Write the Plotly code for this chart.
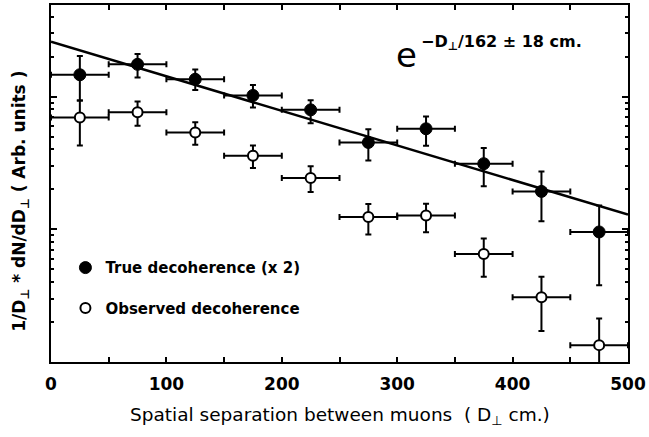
import plotly.graph_objects as go

# Data
x_centers = [25, 75, 125, 175, 225, 275, 325, 375, 425, 475]
x_half_width = [25] * 10

true_y = [14.6, 17.5, 13.5, 10.2, 7.94, 4.51, 5.72, 3.12, 1.93, 0.955]
true_top = [20.2, 20.9, 16.0, 12.2, 9.38, 5.68, 7.07, 4.09, 2.73, 1.51]
true_bot = [9.33, 13.9, 11.2, 8.27, 6.30, 3.30, 4.26, 2.11, 1.15, 0.379]

obs_y = [6.95, 7.62, 5.36, 3.58, 2.43, 1.24, 1.27, 0.652, 0.308, 0.134]
obs_top = [9.33, 9.17, 6.41, 4.28, 2.98, 1.55, 1.56, 0.851, 0.438, 0.213]
obs_bot = [4.28, 6.02, 4.33, 2.89, 1.91, 0.912, 0.949, 0.438, 0.171, 0.08]

fit_x = [0, 500]
fit_y = [25.9, 1.29]

x_ticks = [0, 100, 200, 300, 400, 500]

FONT = "DejaVu Sans"

def up(v, t):
    return [a - b for a, b in zip(t, v)]

def down(v, b):
    return [a - c for a, c in zip(v, b)]

fig = go.Figure()

fig.add_trace(go.Scatter(
    x=fit_x, y=fit_y, mode="lines",
    line=dict(color="black", width=2.5),
    showlegend=False, hoverinfo="skip"))

fig.add_trace(go.Scatter(
    x=x_centers, y=true_y, mode="markers",
    name="True decoherence (x 2)", legendgroup="a",
    marker=dict(symbol="circle", size=12, color="black",
                line=dict(color="black", width=1)),
    error_x=dict(type="data", array=x_half_width, color="black",
                 thickness=2, width=3),
    error_y=dict(type="data", symmetric=False,
                 array=up(true_y, true_top),
                 arrayminus=down(true_y, true_bot),
                 color="black", thickness=2, width=3)))

fig.add_trace(go.Scatter(
    x=x_centers, y=obs_y, mode="markers",
    name="Observed decoherence", legendgroup="b",
    marker=dict(symbol="circle", size=10, color="white",
                line=dict(color="black", width=2)),
    error_x=dict(type="data", array=x_half_width, color="black",
                 thickness=2, width=3),
    error_y=dict(type="data", symmetric=False,
                 array=up(obs_y, obs_top),
                 arrayminus=down(obs_y, obs_bot),
                 color="black", thickness=2, width=3)))

fig.add_annotation(
    x=0.594, y=0.859, xref="paper", yref="paper",
    text="e", showarrow=False, xanchor="left", yanchor="middle",
    font=dict(family=FONT, size=34, color="black"))
fig.add_annotation(
    x=0.637, y=0.894, xref="paper", yref="paper",
    text="−D<sub>⊥</sub>/162 ± 18 cm.", showarrow=False,
    xanchor="left", yanchor="middle",
    font=dict(family=FONT, size=16, color="black", weight="bold"))

# axis titles as annotations for exact placement
fig.add_annotation(
    x=0.501, y=-0.152, xref="paper", yref="paper",
    text="Spatial separation between muons  ( D<sub>⊥</sub> cm.)",
    showarrow=False, xanchor="center", yanchor="middle",
    font=dict(family=FONT, size=18.5, color="black"))
fig.add_annotation(
    x=-0.053, y=0.45, xref="paper", yref="paper",
    text="1/D<sub>⊥</sub> * dN/dD<sub>⊥</sub> ( Arb. units )",
    showarrow=False, xanchor="center", yanchor="middle", textangle=-90,
    font=dict(family=FONT, size=17, color="black", weight="bold"))

fig.update_layout(
    width=649, height=437,
    margin=dict(l=51, r=18, t=3, b=75),
    paper_bgcolor="white", plot_bgcolor="white",
    font=dict(family=FONT, color="black"),
    legend=dict(x=0.025, y=0.31, xanchor="left", yanchor="top",
                bgcolor="rgba(0,0,0,0)", traceorder="grouped",
                tracegroupgap=18,
                font=dict(family=FONT, size=15, color="black", weight="bold")),
    xaxis=dict(
        range=[0, 500], tickvals=x_ticks, ticktext=[str(v) for v in x_ticks],
        ticks="inside", ticklen=5, tickwidth=1.5, tickcolor="black",
        minor=dict(dtick=50, ticks="inside", ticklen=5, tickwidth=1.5, tickcolor="black"),
        showline=True, linecolor="black", linewidth=2, mirror="ticks",
        showgrid=False, zeroline=False, ticklabelstandoff=6,
        tickfont=dict(family=FONT, size=17, color="black", weight="bold")),
    yaxis=dict(
        type="log", range=[-1, 1.69], dtick=1, showticklabels=False,
        ticks="inside", ticklen=6, tickwidth=1.5, tickcolor="black",
        minor=dict(dtick="D1", ticks="inside", ticklen=3, tickwidth=1.5, tickcolor="black"),
        showline=True, linecolor="black", linewidth=2, mirror="ticks",
        showgrid=False, zeroline=False),
)

fig.write_html("out.html")
